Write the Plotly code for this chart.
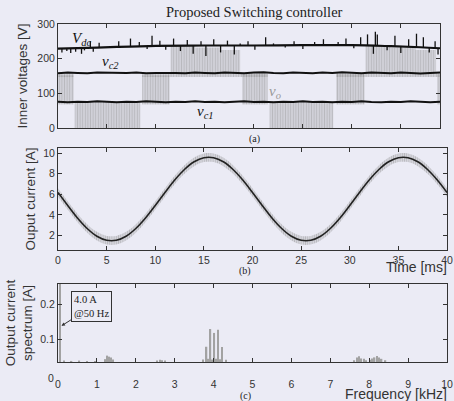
import numpy as np
import plotly.graph_objects as go

BG = '#ebebf5'
AX = '#333333'
GRAY = '#888888'

# ---------------- Panel (a): inner voltages ----------------
lvl_t = list(range(0, 40))  # ms
vc2_v = [158, 160, 159, 158, 160, 159, 158, 159, 160, 158, 159, 160, 159, 158, 160, 159, 158, 160,
         159, 158, 160, 161, 159, 158, 160, 159, 158, 160, 159, 161, 159, 158, 160, 159, 158, 160,
         159, 157, 159, 160]
vc1_v = [76, 74, 76, 75, 77, 75, 74, 76, 75, 77, 75, 74, 76, 75, 77, 75, 76, 74, 76, 77,
         75, 76, 74, 76, 75, 77, 75, 76, 74, 76, 75, 77, 75, 74, 76, 75, 77, 75, 74, 76]
vdc_t = [0, 3, 6, 10, 15, 20, 25, 30, 34, 37, 39]
vdc_v = [229, 231, 234, 237, 238, 238, 239, 239, 236, 233, 230]
spike_t = [0.4, 0.9, 1.3, 1.8, 2.4, 2.7, 3.3, 3.6, 4.2, 6.2, 7.4, 8.3, 9.1, 9.6, 10.4, 11.0,
           11.8, 12.5, 13.2, 13.8, 14.6, 15.1, 15.9, 16.6, 17.3, 18.0, 18.6, 19.4, 20.1, 21.2,
           22.0, 23.2, 24.1, 25.0, 26.2, 27.1, 28.6, 29.4, 30.2, 30.9, 31.6, 32.2, 32.4, 32.6,
           33.6, 34.4, 35.0, 35.8, 36.6, 37.3, 37.9, 38.5, 38.8]
spike_v = [218, 222, 216, 220, 214, 224, 250, 220, 246, 250, 258, 248, 228, 266, 252, 226,
           258, 222, 254, 214, 250, 208, 256, 218, 252, 212, 244, 250, 226, 262,
           244, 232, 250, 228, 248, 256, 248, 258, 230, 262, 270, 214, 278, 270,
           224, 266, 216, 256, 272, 262, 218, 250, 212]
# switching bands of the output voltage v_o
pwm_start = [0.0, 1.7, 8.6, 11.5, 14.0, 16.5, 18.8, 21.6, 28.4, 31.4, 34.0, 36.5, 38.7]
pwm_end = [1.6, 8.4, 11.4, 14.0, 16.5, 18.6, 21.4, 28.1, 31.3, 34.0, 36.5, 38.6, 39.0]
pwm_low = [68, 0, 68, 160, 160, 160, 68, 0, 68, 160, 160, 160, 68]
pwm_high = [152, 77, 152, 238, 232, 225, 155, 77, 155, 238, 232, 225, 155]
rip_start = [0.0, 8.6, 28.4]
rip_end = [1.6, 21.4, 39.0]
rip_low = [147, 147, 147]
rip_high = [160, 160, 160]

# ---------------- Panel (b): output current ----------------
cur_t = list(range(0, 41))  # ms
cur_avg = [6.18, 4.92, 3.71, 2.69, 1.94, 1.55, 1.55, 1.94, 2.69, 3.71, 4.92, 6.18, 7.39, 8.41,
           9.16, 9.55, 9.55, 9.16, 8.41, 7.39, 6.18, 4.92, 3.71, 2.69, 1.94, 1.55, 1.55, 1.94,
           2.69, 3.71, 4.92, 6.18, 7.39, 8.41, 9.16, 9.55, 9.55, 9.16, 8.41, 7.39, 6.18]
cur_ripple = 0.42  # half-width of the switching ripple [A]

# ---------------- Panel (c): spectrum ----------------
spec_f = [0.05, 0.15, 0.35, 0.55, 0.75, 0.95, 1.22, 1.27, 1.32, 1.37, 1.42, 2.55, 2.62, 2.68,
          2.75, 3.72, 3.82, 3.87, 3.92, 3.97, 4.02, 4.07, 4.12, 4.17, 4.22, 4.32, 7.62, 7.68,
          7.74, 7.80, 7.86, 7.92, 8.02, 8.08, 8.14, 8.20, 8.26, 8.32, 8.42]
spec_a = [4.0, 0.041, 0.040, 0.041, 0.040, 0.040, 0.045, 0.055, 0.052, 0.050, 0.044, 0.041,
          0.043, 0.042, 0.041, 0.044, 0.080, 0.046, 0.130, 0.044, 0.119, 0.046, 0.128, 0.045,
          0.079, 0.043, 0.042, 0.050, 0.053, 0.047, 0.046, 0.042, 0.043, 0.047, 0.050, 0.054,
          0.050, 0.046, 0.042]

W, H = 454, 401
def px(x):
    return x / W
def py(y):
    return 1 - y / H

fig = go.Figure()
pat = dict(shape='|', fgcolor=GRAY, bgcolor='rgba(0,0,0,0)', size=2.6, solidity=0.7)

def bands(s, e, lo, hi):
    s, e, lo, hi = map(np.array, (s, e, lo, hi))
    return go.Bar(x=(s + e) / 2, width=e - s, base=lo, y=hi - lo, xaxis='x', yaxis='y',
                  marker=dict(color='rgba(0,0,0,0)', line=dict(width=0), pattern=pat),
                  showlegend=False, hoverinfo='skip')

fig.add_trace(bands(pwm_start, pwm_end, pwm_low, pwm_high))
fig.add_trace(bands(rip_start, rip_end, rip_low, rip_high))

fig.add_trace(go.Scatter(x=lvl_t, y=vc2_v, mode='lines', line=dict(color='#111', width=2),
                         xaxis='x', yaxis='y', showlegend=False))
fig.add_trace(go.Scatter(x=lvl_t, y=vc1_v, mode='lines', line=dict(color='#111', width=2),
                         xaxis='x', yaxis='y', showlegend=False))
fig.add_trace(go.Scatter(x=vdc_t, y=vdc_v, mode='lines', line=dict(color='#111', width=2.2, shape='spline'),
                         xaxis='x', yaxis='y', showlegend=False))
anchor = np.interp(spike_t, vdc_t, vdc_v)
sx, sy = [], []
for t, a, v in zip(spike_t, anchor, spike_v):
    sx += [t, t, None]
    sy += [a, v, None]
fig.add_trace(go.Scatter(x=sx, y=sy, mode='lines', line=dict(color='#111', width=1.3),
                         xaxis='x', yaxis='y', showlegend=False))

# panel (b)
up = np.array(cur_avg) + cur_ripple
lo = np.array(cur_avg) - cur_ripple
fig.add_trace(go.Scatter(x=cur_t, y=up, mode='lines', line=dict(color='rgba(0,0,0,0)', shape='spline'),
                         xaxis='x2', yaxis='y2', showlegend=False))
fig.add_trace(go.Scatter(x=cur_t, y=lo, mode='lines', line=dict(color='rgba(0,0,0,0)', shape='spline'),
                         fill='tonexty', fillcolor='rgba(0,0,0,0)',
                         fillpattern=dict(shape='|', fgcolor='#888888', size=2.2, solidity=0.65),
                         xaxis='x2', yaxis='y2', showlegend=False))
fig.add_trace(go.Scatter(x=cur_t, y=cur_avg, mode='lines', line=dict(color='#222', width=1.6, shape='spline'),
                         xaxis='x2', yaxis='y2', showlegend=False))

# panel (c)
fig.add_trace(go.Bar(x=spec_f, y=spec_a, width=0.035, marker=dict(color='#a2a2a2', line=dict(width=0)),
                     xaxis='x3', yaxis='y3', showlegend=False))

tickfont = dict(family='Liberation Sans', size=10.5, color=AX)
common = dict(showline=True, linecolor=AX, linewidth=1, mirror='ticks', ticks='inside', ticklen=4,
              tickcolor=AX, showgrid=False, zeroline=False, tickfont=tickfont, automargin=False)
titlefont = dict(family='Liberation Sans', size=13.5, color=AX)

fig.update_layout(
    width=W, height=H, margin=dict(l=0, r=0, t=0, b=0, pad=0),
    paper_bgcolor=BG, plot_bgcolor=BG, barmode='overlay', showlegend=False,
    xaxis=dict(domain=[px(58), px(440)], range=[0, 39], tickvals=list(range(0, 40, 5)),
               showticklabels=False, anchor='y', **common),
    yaxis=dict(domain=[py(128), py(24)], range=[0, 300], tickvals=[0, 100, 200, 300],
               title=dict(text='Inner voltages [V]', font=titlefont, standoff=6), anchor='x', **common),
    xaxis2=dict(domain=[px(58), px(447)], range=[0, 40], tickvals=list(range(0, 41, 5)),
                anchor='y2', **common),
    yaxis2=dict(domain=[py(250), py(148)], range=[0.6, 10.5], tickvals=[2, 4, 6, 8, 10],
                title=dict(text='Ouput current [A]', font=titlefont, standoff=4), anchor='x2', **common),
    xaxis3=dict(domain=[px(58), px(447)], range=[0, 10], tickvals=list(range(0, 11)),
                ticklabelstandoff=12, anchor='y3', **common),
    yaxis3=dict(domain=[py(362), py(284)], range=[0.037, 0.257], tickvals=[0.1, 0.2],
                title=dict(text='Output current<br>spectrum [A]', font=titlefont, standoff=4),
                anchor='x3', **common),
)

serif = 'Liberation Serif'
ann = [
    dict(text='Proposed Switching controller', x=px(254), y=py(12), font=dict(family=serif, size=14.5, color='#222')),
    dict(text='(a)', x=px(254), y=py(139), font=dict(family=serif, size=10, color='#222')),
    dict(text='(b)', x=px(245), y=py(271), font=dict(family=serif, size=10, color='#222')),
    dict(text='(c)', x=px(245), y=py(396), font=dict(family=serif, size=10, color='#222')),
    dict(text='Time [ms]', x=px(449), y=py(267), xanchor='right', font=dict(family='Liberation Sans', size=14, color=AX)),
    dict(text='Frequency [kHz]', x=px(449), y=py(394), xanchor='right', font=dict(family='Liberation Sans', size=14, color=AX)),
    dict(text='0', x=px(51), y=py(378), font=tickfont),
]
for a in ann:
    a.setdefault('xanchor', 'center')
    a.update(xref='paper', yref='paper', yanchor='middle', showarrow=False)
    fig.add_annotation(**a)

lab = dict(family=serif, size=15, color='#111')
fig.add_annotation(x=2.4, y=258, xref='x', yref='y', text='<i>V<sub>dc</sub></i>', showarrow=False, font=lab)
fig.add_annotation(x=5.4, y=191, xref='x', yref='y', text='<i>v<sub>c2</sub></i>', showarrow=False, font=lab)
fig.add_annotation(x=22.2, y=104, xref='x', yref='y', text='<i>v<sub>o</sub></i>', showarrow=False,
                   font=dict(family=serif, size=15, color='#999'))
fig.add_annotation(x=15.1, y=46, xref='x', yref='y', text='<i>v<sub>c1</sub></i>', showarrow=False, font=lab)

fig.add_annotation(x=0.09, y=0.139, xref='x3', yref='y3', text='4.0 A<br>@50 Hz', showarrow=True,
                   ax=30, ay=-19, arrowhead=2, arrowsize=0.7, arrowwidth=1, arrowcolor=AX,
                   bordercolor=AX, borderwidth=1, borderpad=2, bgcolor=BG, align='left',
                   font=dict(family=serif, size=10.5, color='#222'))

fig.write_html('out.html', config={'displayModeBar': False},
               post_script="document.body.style.margin='0';")
